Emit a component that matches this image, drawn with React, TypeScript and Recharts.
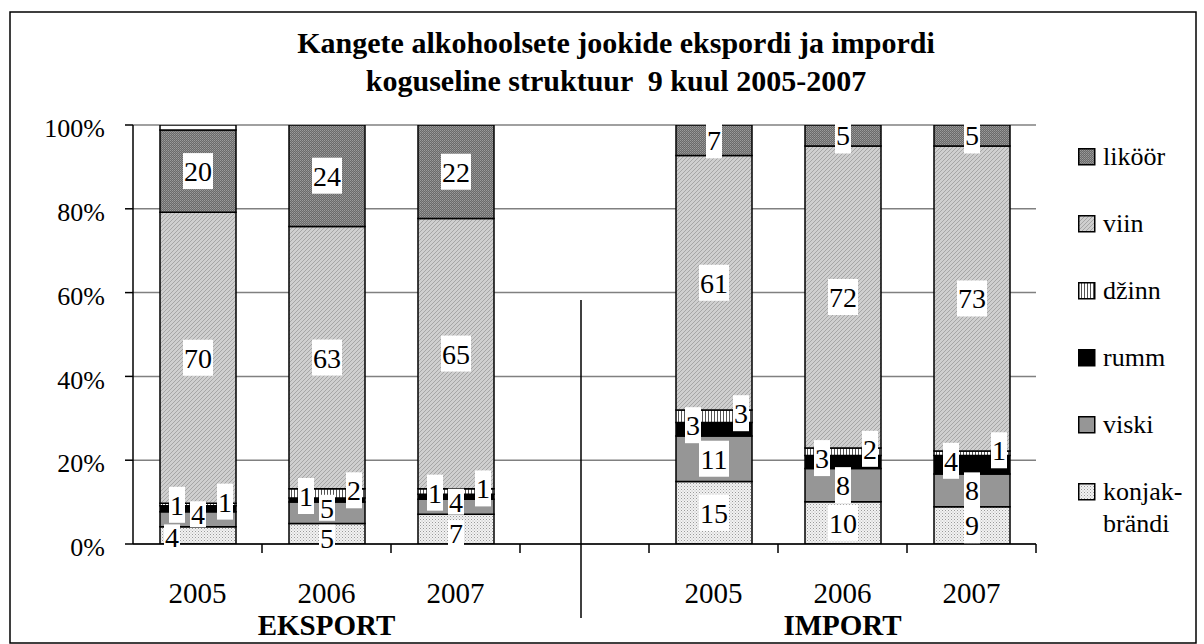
import React from 'react'
import { BarChart, Bar, XAxis, YAxis, CartesianGrid, LabelList } from 'recharts'

// kategooriad: 3 aastat ekspordi all, tühi vahe, 3 aastat impordi all
const years = ['2005', '2006', '2007', '', '2005', '2006', '2007']
const groupLabels = ['', 'EKSPORT', '', '', '', 'IMPORT', '']

// osakaalud, % (loetud jooniselt)
const konjak = [4.1, 4.9, 7.1, null, 14.9, 10.1, 8.9]
const viski = [3.6, 5.1, 3.6, null, 10.9, 7.9, 7.8]
const rumm = [1.4, 1.0, 1.2, null, 3.2, 3.1, 4.4]
const dzinn = [0.6, 2.2, 1.3, null, 3.0, 1.8, 1.1]
const viin = [69.5, 62.6, 64.5, null, 60.7, 72.1, 72.8]
const likoor = [19.6, 24.2, 22.3, null, 7.3, 5.0, 5.0]
const muu = [1.2, 0, 0, null, 0, 0, 0]

const yTicks = [0, 20, 40, 60, 80, 100]

const FONT = 'Liberation Serif, Tinos, DejaVu Serif, Times New Roman, serif'

const rows = years.map((y, i) => ({
  year: y,
  group: groupLabels[i],
  konjak: konjak[i],
  viski: viski[i],
  rumm: rumm[i],
  dzinn: dzinn[i],
  viin: viin[i],
  likoor: likoor[i],
  muu: muu[i],
}))

type Mode = 'center' | 'left' | 'right' | 'low' | 'high'

const series: { key: string; name: string; fill: string; label?: Mode }[] = [
  { key: 'konjak', name: 'konjak-brändi', fill: 'url(#pKonjak)', label: 'low' },
  { key: 'viski', name: 'viski', fill: '#969696', label: 'high' },
  { key: 'rumm', name: 'rumm', fill: '#000000', label: 'left' },
  { key: 'dzinn', name: 'džinn', fill: 'url(#pDzinn)', label: 'right' },
  { key: 'viin', name: 'viin', fill: 'url(#pViin)', label: 'center' },
  { key: 'likoor', name: 'liköör', fill: 'url(#pLikoor)', label: 'center' },
  { key: 'muu', name: 'muu', fill: '#ffffff' },
]

function makeLabel(mode: Mode) {
  return (props: any) => {
    const { value } = props
    if (value == null || value === 0) return null
    const vb = props.viewBox || {}
    const x = Number(props.x ?? vb.x)
    const y = Number(props.y ?? vb.y)
    const w = Number(props.width ?? vb.width)
    const h = Math.abs(Number(props.height ?? vb.height))
    const txt = String(Math.round(value))
    const bw = txt.length * 14 + 2
    let bh = 36
    let cx = x + w / 2
    let cy = y + h / 2
    if (mode === 'left') { cx = x + 9 + bw / 2; cy -= 4 }
    if (mode === 'right') { cx = x + w - 3 - bw / 2; cy -= 3 }
    // väikestes lõikudes nihutatakse viski üles ja konjaki alla, et sildid ei kattuks
    if (mode === 'high' && h < 25) { cy -= 5; bh = 26 }
    if (mode === 'low' && h < 35) { cy += h < 20 ? 2 : 4; bh = 26 }
    if (mode === 'low' && h < 20) { cx = x + 4 + bw / 2 }
    return (
      <g>
        <rect x={cx - bw / 2} y={cy - bh / 2} width={bw} height={bh} fill="#fff" />
        <text x={cx} y={cy + 10} textAnchor="middle" fontSize={28} fill="#000" style={{ fontFamily: FONT }}>
          {txt}
        </text>
      </g>
    )
  }
}

function YearTick(props: any) {
  const { x, y, payload } = props
  const band = 903 / years.length
  const g = groupLabels[payload.index]
  return (
    <g>
      <line x1={x + band / 2} x2={x + band / 2} y1={y} y2={y + 9} stroke="#000" strokeWidth={1.5} />
      <text x={x} y={y + 59} textAnchor="middle" fontSize={29} fill="#000" style={{ fontFamily: FONT }}>
        {payload.value}
      </text>
      {g && (
        <text x={x} y={y + 91} textAnchor="middle" fontSize={29} fontWeight="bold" fill="#000" style={{ fontFamily: FONT }}>
          {g}
        </text>
      )}
    </g>
  )
}

function Swatch({ fill }: { fill: string }) {
  return (
    <svg width={18} height={18} style={{ marginTop: 7, flex: 'none' }}>
      <rect x={0.75} y={0.75} width={16} height={16} fill={fill} stroke="#000" strokeWidth={1.5} />
    </svg>
  )
}

export default function App() {
  const legendItems = series.filter((s) => s.key !== 'muu').slice().reverse()
  return (
    <div style={{ position: 'absolute', left: 0, top: 0, width: 1204, height: 644, background: '#fff', fontFamily: FONT }}>
      <BarChart width={1204} height={644} data={rows} margin={{ top: 125, right: 168, bottom: 0, left: 0 }} barSize={76}>
        <defs>
          <pattern id="pLikoor" width={2} height={2} patternUnits="userSpaceOnUse">
            <rect width={2} height={2} fill="#6a6a6a" />
            <rect width={1} height={1} fill="#9c9c9c" />
            <rect x={1} y={1} width={1} height={1} fill="#8a8a8a" />
          </pattern>
          <pattern id="pViin" width={4} height={4} patternUnits="userSpaceOnUse">
            <rect width={4} height={4} fill="#cfcfcf" />
            <path d="M0,4 L4,0 M-1,1 L1,-1 M3,5 L5,3" stroke="#a6a6a6" strokeWidth={1} />
          </pattern>
          <pattern id="pDzinn" width={3} height={3} patternUnits="userSpaceOnUse">
            <rect width={3} height={3} fill="#ffffff" />
            <rect width={1} height={3} fill="#555555" />
          </pattern>
          <pattern id="pKonjak" width={3} height={3} patternUnits="userSpaceOnUse">
            <rect width={3} height={3} fill="#f2f2f2" />
            <rect width={1} height={1} fill="#9a9a9a" />
            <rect x={1.5} y={1.5} width={1} height={1} fill="#b8b8b8" />
          </pattern>
        </defs>
        <CartesianGrid vertical={false} stroke="#808080" strokeWidth={1.5} />
        <XAxis
          dataKey="year"
          height={100}
          interval={0}
          tickSize={0}
          tickMargin={0}
          tickLine={false}
          axisLine={{ stroke: '#000', strokeWidth: 1.5 }}
          tick={<YearTick />}
        />
        {/* teine, peidetud telg: sildid joonistatakse kõigi tulpade peale */}
        <XAxis xAxisId="lbl" dataKey="year" hide />
        <YAxis
          domain={[0, 100]}
          ticks={yTicks}
          allowDataOverflow
          width={133}
          tickSize={8}
          tickMargin={20}
          tickFormatter={(v) => `${v}%`}
          axisLine={{ stroke: '#000', strokeWidth: 1.5 }}
          tickLine={{ stroke: '#000', strokeWidth: 1.5 }}
          tick={{ fontSize: 26, fill: '#000', fontFamily: FONT, dy: 3 }}
        />
        <YAxis yAxisId="r" orientation="right" domain={[0, 100]} width={0} tick={false} tickLine={false} axisLine={{ stroke: '#808080', strokeWidth: 1.5 }} />
        {series.map((s) => (
          <Bar key={s.key} dataKey={s.key} name={s.name} stackId="a" fill={s.fill} stroke="#000" strokeWidth={1.5} isAnimationActive={false} />
        ))}
        {series.map((s) => (
          <Bar key={'l' + s.key} xAxisId="lbl" dataKey={s.key} stackId="b" fill="none" stroke="none" isAnimationActive={false} legendType="none">
            {s.label && <LabelList dataKey={s.key} content={makeLabel(s.label)} />}
          </Bar>
        ))}
      </BarChart>

      <svg width={1204} height={644} style={{ position: 'absolute', left: 0, top: 0, pointerEvents: 'none' }}>
        <rect x={10} y={12} width={1186} height={631} fill="none" stroke="#000" strokeWidth={1.5} />
        <text x={616} y={53} textAnchor="middle" fontSize={30} fontWeight="bold" style={{ fontFamily: FONT }}>
          Kangete alkohoolsete jookide ekspordi ja impordi
        </text>
        <text x={616} y={91} textAnchor="middle" fontSize={30} fontWeight="bold" style={{ fontFamily: FONT, whiteSpace: 'pre' }}>
          koguseline struktuur  9 kuul 2005-2007
        </text>
        <line x1={581} x2={581} y1={300} y2={618} stroke="#000" strokeWidth={1.5} />
      </svg>

      <div style={{ position: 'absolute', left: 1078, top: 141, fontSize: 26, lineHeight: '32px', color: '#000' }}>
        {legendItems.map((s) => (
          <div key={s.key} style={{ display: 'flex', alignItems: 'flex-start', height: 67 }}>
            <Swatch fill={s.fill} />
            <span style={{ marginLeft: 7 }}>
              {s.key === 'konjak' ? (<>konjak-<br />brändi</>) : s.name}
            </span>
          </div>
        ))}
      </div>
    </div>
  )
}
